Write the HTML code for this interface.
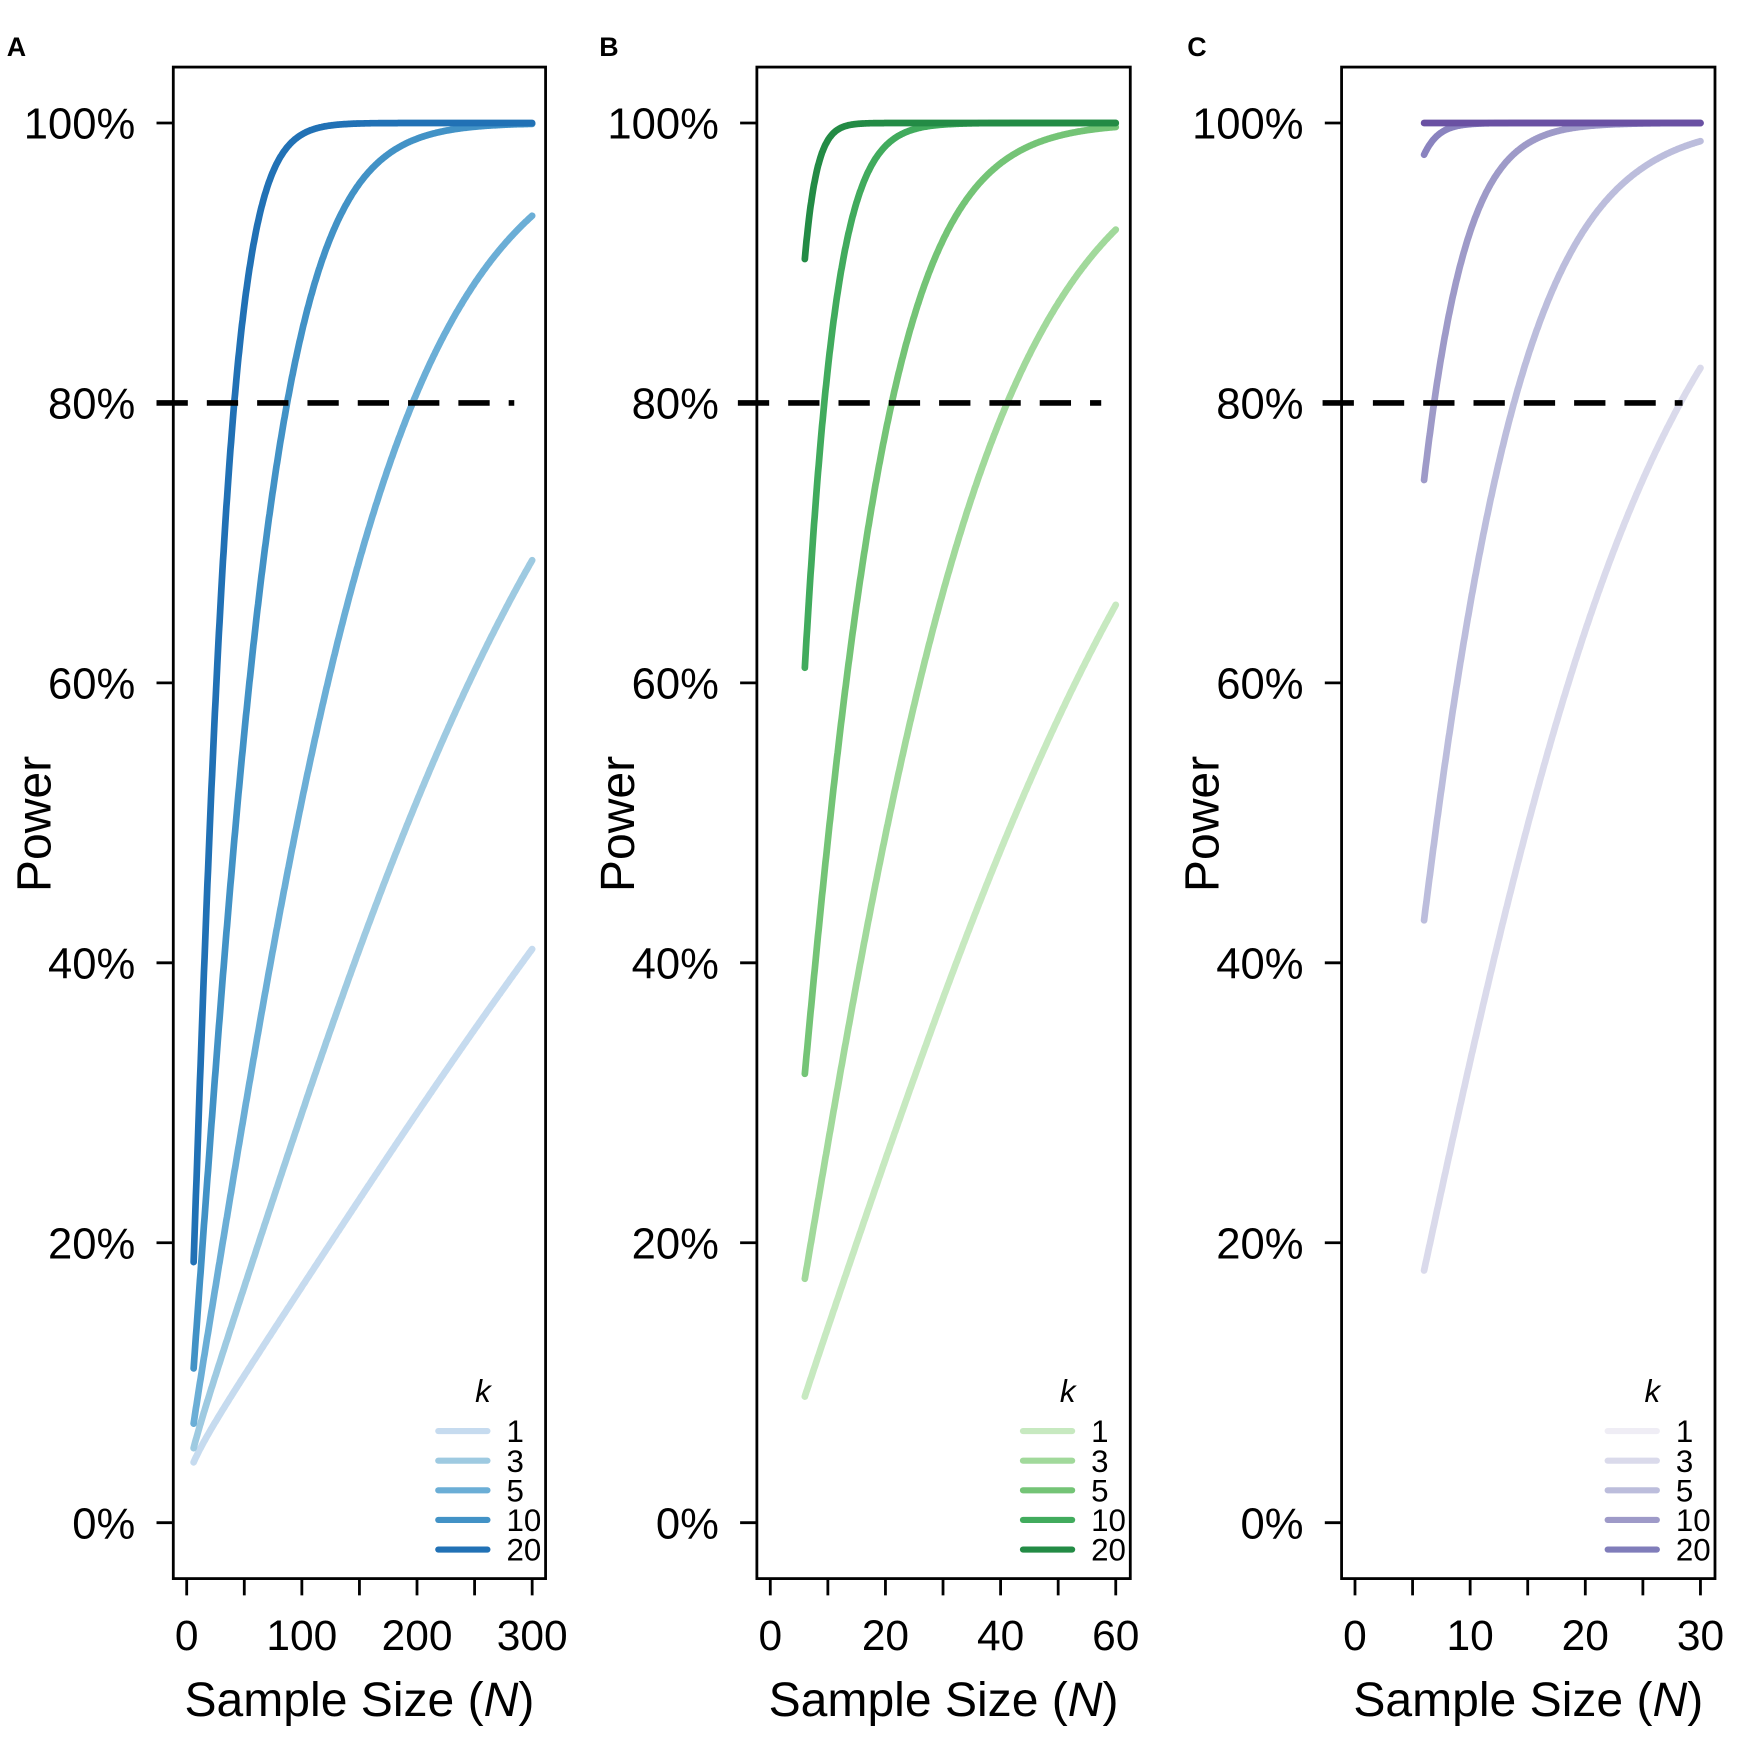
<!DOCTYPE html>
<html><head><meta charset="utf-8"><style>
html,body{margin:0;padding:0;background:#fff}
svg{display:block}
text{font-family:"Liberation Sans",Arial,sans-serif;fill:#000}
</style></head><body>
<svg id="s" width="1753" height="1753" viewBox="0 0 1568 1568" xmlns="http://www.w3.org/2000/svg">
<text x="6" y="50" font-size="24" font-weight="bold">A</text>
<text x="536" y="50" font-size="24" font-weight="bold">B</text>
<text x="1062" y="50" font-size="24" font-weight="bold">C</text>
<g id="g"></g>
</svg>
<script>
var g=document.getElementById('g');
function erf(x){var s=x<0?-1:1;x=Math.abs(x);var t=1/(1+0.3275911*x);var y=1-(((((1.061405429*t-1.453152027)*t)+1.421413741)*t-0.284496736)*t+0.254829592)*t*Math.exp(-x*x);return s*y;}
function Phi(z){return 0.5*(1+erf(z/Math.SQRT2));}
var panels=[
 {x0:155,x1:488,ax0:167,ax1:476,max:300,tk:[0,50,100,150,200,250,300],lb:[0,100,200,300],
  cs:[[0.1,0],[0.1414,0],[0.2,0],[0.3,0],[0.436,0]],dash:[140,460],
  cc:['#c6dbef','#9ecae1','#6baed6','#4292c6','#2171b5'],
  col:['#c6dbef','#9ecae1','#6baed6','#4292c6','#2171b5']},
 {x0:677,x1:1011,ax0:689,ax1:998,max:60,tk:[0,10,20,30,40,50,60],lb:[0,20,40,60],
  cs:[[0.31,2],[0.44,0.6],[0.61,0],[0.915,0],[1.33,0]],dash:[660,985],
  cc:['#c7e9c0','#a1d99b','#74c476','#41ab5d','#238b45'],
  col:['#c7e9c0','#a1d99b','#74c476','#41ab5d','#238b45']},
 {x0:1200,x1:1534,ax0:1212,ax1:1521,max:30,tk:[0,5,10,15,20,25,30],lb:[0,10,20,30],
  cs:[[0.551,2.4],[0.773,0.67],[1.069,0],[1.617,0],[5,0]],dash:[1183,1505],
  cc:['#dadaeb','#bcbddc','#9e9ac8','#8a83bf','#6a51a3'],
  col:['#efedf5','#dadaeb','#bcbddc','#9e9ac8','#807dba']}
];
var ks=['1','3','5','10','20'];
var h='';
function Y(p){return 1362-p*1252;}
panels.forEach(function(P){
 var sx=(P.ax1-P.ax0)/P.max;
 h+='<rect x="'+P.x0+'" y="60" width="'+(P.x1-P.x0)+'" height="1352" fill="none" stroke="#000" stroke-width="2.5"/>';
 [0,20,40,60,80,100].forEach(function(v){var y=Y(v/100);
  h+='<line x1="'+(P.x0-15)+'" x2="'+P.x0+'" y1="'+y+'" y2="'+y+'" stroke="#000" stroke-width="2.5"/>';
  h+='<text x="'+(P.x0-34)+'" y="'+(y+14)+'" font-size="39" text-anchor="end">'+v+'%</text>';});
 P.tk.forEach(function(v){var x=P.ax0+v*sx;
  h+='<line x1="'+x+'" x2="'+x+'" y1="1412" y2="1427" stroke="#000" stroke-width="2.5"/>';});
 P.lb.forEach(function(v){var x=P.ax0+v*sx;
  h+='<text x="'+x+'" y="1476" font-size="38" text-anchor="middle">'+v+'</text>';});
 var cx=(P.x0+P.x1)/2;
 h+='<text x="'+cx+'" y="1535" font-size="43" text-anchor="middle">Sample Size (<tspan font-style="italic">N</tspan>)</text>';
 h+='<text transform="translate('+(P.x0-110)+',737) rotate(-90)" font-size="43" text-anchor="middle">Power</text>';
 P.cs.forEach(function(ac,i){
  var a=ac[0],c=ac[1];
  var d='';
  for(var n=6;n<=P.max+1e-9;n+=P.max/600){
   var p=Phi(a*Math.sqrt(n-c)-1.96);var x=P.ax0+n*sx;
   d+=(d?'L':'M')+x.toFixed(1)+' '+Y(p).toFixed(1);}
  h+='<path d="'+d+'" fill="none" stroke="'+P.cc[i]+'" stroke-width="6" stroke-linecap="round" stroke-linejoin="round"/>';
  var ly=1280+i*26.5;
  h+='<line x1="'+(P.x1-96)+'" x2="'+(P.x1-52)+'" y1="'+ly+'" y2="'+ly+'" stroke="'+P.col[i]+'" stroke-width="5.5" stroke-linecap="round"/>';
  h+='<text x="'+(P.x1-35)+'" y="'+(ly+10)+'" font-size="28">'+ks[i]+'</text>';
 });
 h+='<text x="'+(P.x1-63)+'" y="1254" font-size="28" font-style="italic">k</text>';
 h+='<line x1="'+P.dash[0]+'" x2="'+P.dash[1]+'" y1="'+Y(0.8)+'" y2="'+Y(0.8)+'" stroke="#000" stroke-width="5" stroke-dasharray="28,17"/>';
});
g.innerHTML=h;
</script>
</body></html>
